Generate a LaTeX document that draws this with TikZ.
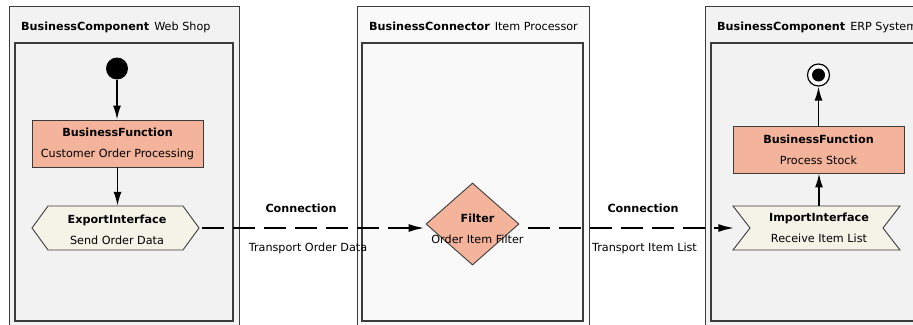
\documentclass[tikz,border=0pt]{standalone}
\usepackage{fontspec}
\setmainfont{DejaVu Sans}
\usetikzlibrary{arrows.meta,shapes.geometric}

\definecolor{frameline}{HTML}{3C3C3C}
\definecolor{panelgray}{HTML}{F2F2F2}
\definecolor{panellight}{HTML}{F9F9F9}
\definecolor{funcfill}{HTML}{F4B39B}
\definecolor{ifacefill}{HTML}{F3F3E7}

\tikzset{
  basefont/.style={font=\fontsize{11.2}{21}\selectfont},
  outerbox/.style={draw=frameline, line width=0.9pt},
  innerbox/.style={draw=frameline, line width=1.4pt},
  title/.style={basefont, anchor=base west, inner sep=0pt},
  funcbox/.style={basefont, rectangle, draw=frameline, line width=0.9pt, fill=funcfill,
    minimum width=171pt, minimum height=47pt, inner sep=0pt, align=center},
  ifshape/.style={draw=frameline, line width=0.9pt, fill=ifacefill},
  iftext/.style={basefont, rectangle, minimum width=167pt, minimum height=44pt,
    inner sep=0pt, align=center},
  lbl/.style={basefont, inner sep=0pt, align=center},
  startdot/.style={circle, fill=black, minimum size=22pt, inner sep=0pt},
  endring/.style={circle, draw=black, line width=1.2pt, fill=white, minimum size=22pt, inner sep=0pt},
  ctrl/.style={line width=1.6pt, -{Latex[length=14pt,width=8pt]}},
  flow/.style={line width=2.6pt, dash pattern=on 22pt off 9pt, -{Latex[length=17pt,width=8pt]}},
}

\begin{document}
\begin{tikzpicture}[x=1pt,y=-1pt]
\clip (0,0) rectangle (913,324);
\fill[white] (0,0) rectangle (913,324);

% containers
\draw[outerbox, fill=panelgray]  (9,6)   rectangle (239,340);
\draw[innerbox, fill=panelgray]  (15,43) rectangle (233,321);
\draw[outerbox, fill=panellight] (357,6) rectangle (589,340);
\draw[innerbox, fill=panellight] (362,43) rectangle (583,321);
\draw[outerbox, fill=panelgray]  (705,6) rectangle (930,340);
\draw[innerbox, fill=panelgray]  (711,43) rectangle (925,321);

% container titles
\node[title] (t1) at (21,30)  {\textbf{BusinessComponent}\hspace{5pt}Web Shop};
\node[title] (t2) at (369,30) {\textbf{BusinessConnector}\hspace{5pt}Item Processor};
\node[title] (t3) at (717,30) {\textbf{BusinessComponent}\hspace{5pt}ERP System};

% Web Shop flow
\node[startdot] (start) at (117,68.5) {};
\node[funcbox] (bf1) at (117.5,143.5) {\textbf{BusinessFunction}\\Customer Order Processing};
\path[ifshape] (32,228) -- (48,206) -- (183,206) -- (199,228) -- (183,250) -- (48,250) -- cycle;
\node[iftext] (exp) at (115.5,228) {};
\node[lbl] (explbl) at (117,230) {\textbf{ExportInterface}\\Send Order Data};
\draw[ctrl] (start.south) -- (start.south |- bf1.north);
\draw[ctrl] (bf1.south) -- (bf1.south |- exp.north);

% Item Processor
\node[diamond, draw=frameline, line width=0.9pt, fill=funcfill, minimum width=93pt,
  minimum height=82pt, inner sep=0pt] (flt) at (472.5,224) {};
\node[lbl] (fltlbl) at (477.5,229) {\textbf{Filter}\\Order Item Filter};

% ERP System flow
\path[ifshape] (733,206) -- (900,206) -- (883,228) -- (900,250) -- (733,250) -- (750,228) -- cycle;
\node[iftext] (imp) at (819,228) {\textbf{ImportInterface}\\Receive Item List};
\node[funcbox] (bf2) at (818.5,149.5) {\textbf{BusinessFunction}\\Process Stock};
\node[endring] (end) at (818.5,75) {};
\fill[black] (end.center) circle (6.5);
\draw[ctrl] (imp.north) -- (imp.north |- bf2.south);
\draw[ctrl] (bf2.north) -- (bf2.north |- end.south);

% connections
\draw[flow] ([xshift=3pt]exp.east) -- (exp.east -| flt.west);
\draw[flow] ([xshift=9pt]flt.east |- imp.west) -- (imp.west);
\node[lbl] (c1) at (301,208) {\textbf{Connection}};
\node[lbl] (c1t) at (308,248) {Transport Order Data};
\node[lbl] (c2) at (643,208) {\textbf{Connection}};
\node[lbl] (c2t) at (644.5,248) {Transport Item List};
\end{tikzpicture}
\end{document}
